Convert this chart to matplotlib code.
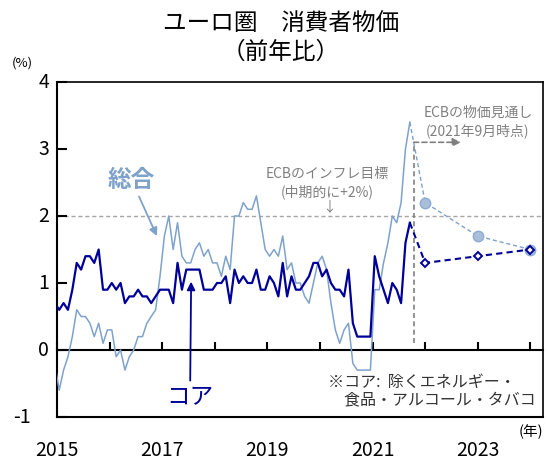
import matplotlib
matplotlib.use("Agg")
import matplotlib.pyplot as plt
import matplotlib.transforms as mtransforms
import pandas as pd

plt.rcParams["font.family"] = ["Noto Sans CJK JP", "DejaVu Sans"]

# monthly y/y, Dec 2014 .. Sep 2021
months = pd.date_range("2014-12-01", "2021-09-01", freq="MS")
headline = [
    -0.2,
    -0.6, -0.3, -0.1, 0.2, 0.6, 0.5, 0.5, 0.4, 0.2, 0.4, 0.1, 0.3,
    0.3, -0.1, 0.0, -0.3, -0.1, 0.0, 0.2, 0.2, 0.4, 0.5, 0.6, 1.1,
    1.7, 2.0, 1.5, 1.9, 1.4, 1.3, 1.3, 1.5, 1.6, 1.4, 1.5, 1.3,
    1.3, 1.1, 1.4, 1.2, 2.0, 2.0, 2.2, 2.1, 2.1, 2.3, 1.9, 1.5,
    1.4, 1.5, 1.4, 1.7, 1.2, 1.3, 1.0, 1.0, 0.8, 0.7, 1.0, 1.3,
    1.4, 1.2, 0.7, 0.3, 0.1, 0.3, 0.4, -0.2, -0.3, -0.3, -0.3, -0.3,
    0.9, 0.9, 1.3, 1.6, 2.0, 1.9, 2.2, 3.0, 3.4,
]
core = [
    0.7,
    0.6, 0.7, 0.6, 0.9, 1.3, 1.2, 1.4, 1.4, 1.3, 1.5, 0.9, 0.9,
    1.0, 0.9, 1.0, 0.7, 0.8, 0.8, 0.9, 0.8, 0.8, 0.7, 0.8, 0.9,
    0.9, 0.9, 0.7, 1.3, 0.9, 1.2, 1.2, 1.2, 1.2, 0.9, 0.9, 0.9,
    1.0, 1.0, 1.1, 0.7, 1.2, 1.0, 1.1, 1.0, 1.0, 1.2, 0.9, 0.9,
    1.1, 1.0, 0.8, 1.3, 0.8, 1.1, 0.9, 0.9, 1.0, 1.1, 1.3, 1.3,
    1.1, 1.2, 1.0, 0.9, 0.9, 0.8, 1.2, 0.4, 0.2, 0.2, 0.2, 0.2,
    1.4, 1.1, 0.9, 0.7, 1.0, 0.9, 0.7, 1.6, 1.9,
]

# ECB staff projections (Sep 2021) for 2021, 2022, 2023
proj_x = [2022, 2023, 2024]
proj_headline = [2.2, 1.7, 1.5]
proj_core = [1.3, 1.4, 1.5]

year_ticks = [2015, 2017, 2019, 2021, 2023]
y_ticks = [-1, 0, 1, 2, 3, 4]

LIGHT = "#7fa2cb"
NAVY = "#000099"
GRAY = "#808080"

# plot each month at the middle of its slot
x = [d.year + (d.month - 0.5) / 12 for d in months]

fig = plt.figure(figsize=(5.48, 4.6), dpi=100)
ax = fig.add_axes([57 / 548, 1 - 418 / 460, 486 / 548, 335 / 460])
ax.set_xlim(2015, 2024.24)
ax.set_ylim(-1, 4)

ax.axhline(2, color="#a6a6a6", lw=1.0, ls=(0, (3, 2)), zorder=1)

ax.plot(x, headline, color=LIGHT, lw=1.1, zorder=3)
ax.plot(x, core, color=NAVY, lw=1.6, zorder=4)

ax.plot([x[-1]] + proj_x, [headline[-1]] + proj_headline, color=LIGHT, lw=1.0,
        ls=(0, (3, 2)), zorder=3)
ax.plot(proj_x, proj_headline, ls="none", marker="o", ms=7.5, mfc="#a8bedb",
        mec="#8dabd1", mew=1.0, zorder=5)
ax.plot([x[-1]] + proj_x, [core[-1]] + proj_core, color=NAVY, lw=1.5,
        ls=(0, (3, 2)), zorder=4)
ax.plot(proj_x, proj_core, ls="none", marker="D", ms=4.2, mfc="white",
        mec=NAVY, mew=1.4, zorder=6)

# projection marker line + arrow
vx = 2021.78
ax.plot([vx, vx], [0.1, 3.1], color=GRAY, lw=1.2, ls=(0, (3, 2)), zorder=2)
ax.annotate("", xy=(2022.68, 3.1), xytext=(vx, 3.1),
            arrowprops=dict(arrowstyle="-|>", color=GRAY, lw=1.2, ls=(0, (3, 2)),
                            mutation_scale=12, shrinkA=0, shrinkB=0))
ax.text(2023.0, 3.42, "ECBの物価見通し\n(2021年9月時点)", color=GRAY, fontsize=10,
        ha="center", va="center", linespacing=1.25)

ax.text(2020.13, 2.51, "ECBのインフレ目標\n(中期的に+2%)", color=GRAY, fontsize=10,
        ha="center", va="center", linespacing=1.25)
ax.text(2020.17, 2.15, "↓", color=GRAY, fontsize=10, ha="center", va="center")

ax.annotate("総合", xy=(2016.90, 1.70), xytext=(2016.41, 2.55), color=LIGHT,
            fontsize=17, fontweight="bold", ha="center", va="center",
            arrowprops=dict(arrowstyle="-|>", color=LIGHT, lw=1.3,
                            mutation_scale=12, shrinkA=2, shrinkB=0))
ax.annotate("コア", xy=(2017.55, 1.02), xytext=(2017.53, -0.69), color=NAVY,
            fontsize=17, ha="center", va="center",
            arrowprops=dict(arrowstyle="-|>", color=NAVY, lw=1.3,
                            mutation_scale=12, shrinkA=1, shrinkB=0))

ax.text(2020.15, -0.60, "※コア:  除くエネルギー・\n　食品・アルコール・タバコ", color="#333333",
        fontsize=11.5, ha="left", va="center", linespacing=1.1)

# frame
for side in ["left", "right", "top", "bottom"]:
    ax.spines[side].set_color("black")
    ax.spines[side].set_linewidth(1.5)
ax.spines["right"].set_linewidth(1.2)
ax.spines["top"].set_linewidth(1.2)

ax.set_yticks(y_ticks)
ax.set_yticklabels([])
ax.tick_params(axis="y", direction="in", length=7, width=1.5)
ytrans = mtransforms.blended_transform_factory(fig.transFigure, ax.transData)
for v in y_ticks:
    xr = 31 / 548 if v < 0 else 49 / 548
    ax.text(xr, v, str(v), transform=ytrans, ha="right", va="center", fontsize=14)

ax.set_xticks(year_ticks)
ax.set_xticklabels([str(y) for y in year_ticks], fontsize=14)
ax.tick_params(axis="x", length=0, pad=16)

# zero line with year ticks pointing up
zero = ax.secondary_xaxis(0.2)
zero.set_xticks(range(2015, 2025))
zero.set_xticklabels([])
zero.tick_params(direction="in", length=6, width=1.5)
zero.spines["bottom"].set_linewidth(1.5)
zero.spines["bottom"].set_color("black")

fig.text(281 / 548, 1 - 23 / 460, "ユーロ圏　消費者物価", fontsize=17, ha="center", va="center")
fig.text(281 / 548, 1 - 52 / 460, "（前年比）", fontsize=17, ha="center", va="center")
fig.text(22 / 548, 1 - 63 / 460, "(%)", fontsize=9.5, ha="center", va="center")
fig.text(531 / 548, 1 - 432 / 460, "(年)", fontsize=10.5, ha="center", va="center")

fig.savefig("out.png", dpi=100)
